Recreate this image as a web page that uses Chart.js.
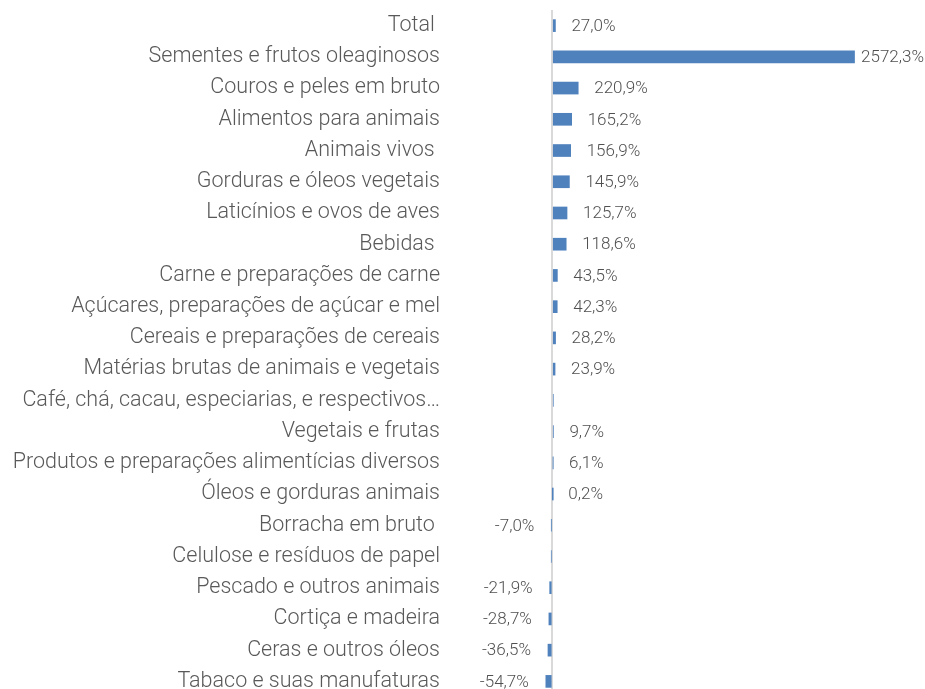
<!DOCTYPE html>
<html>
<head>
<meta charset="utf-8">
<script src="https://cdn.jsdelivr.net/npm/chart.js@4"></script>
<style>
  html, body { margin: 0; padding: 0; background: #fff; overflow: hidden; }
  #wrap { position: relative; width: 925px; height: 705px; }
</style>
</head>
<body>
<div id="wrap"><canvas id="bar"></canvas></div>
<script>
var categories = [
  "Total ",
  "Sementes e frutos oleaginosos",
  "Couros e peles em bruto",
  "Alimentos para animais",
  "Animais vivos ",
  "Gorduras e óleos vegetais",
  "Laticínios e ovos de aves",
  "Bebidas ",
  "Carne e preparações de carne",
  "Açúcares, preparações de açúcar e mel",
  "Cereais e preparações de cereais",
  "Matérias brutas de animais e vegetais",
  "Café, chá, cacau, especiarias, e respectivos…",
  "Vegetais e frutas",
  "Produtos e preparações alimentícias diversos",
  "Óleos e gorduras animais",
  "Borracha em bruto ",
  "Celulose e resíduos de papel",
  "Pescado e outros animais",
  "Cortiça e madeira",
  "Ceras e outros óleos",
  "Tabaco e suas manufaturas",
];
var values = [
  27.0, 2572.3, 220.9, 165.2, 156.9, 145.9, 125.7, 118.6, 43.5, 42.3, 28.2,
  23.9, 9.0, 9.7, 6.1, 0.2, -7.0, -8.0, -21.9, -28.7, -36.5, -54.7,
];
// rows drawn without a value label in the original
var unlabeled = [
  "Café, chá, cacau, especiarias, e respectivos…",
  "Celulose e resíduos de papel",
];

function fmt(v) {
  return v.toFixed(1).replace(".", ",") + "%";
}

var valueLabels = {
  id: "valueLabels",
  afterDatasetsDraw: function (chart) {
    var ctx = chart.ctx;
    var meta = chart.getDatasetMeta(0);
    ctx.save();
    ctx.font = "300 17px Roboto";
    ctx.fillStyle = "#505050";
    ctx.textBaseline = "middle";
    meta.data.forEach(function (bar, i) {
      if (unlabeled.indexOf(categories[i]) !== -1) return;
      var txt = fmt(values[i]);
      var w = ctx.measureText(txt).width;
      if (values[i] >= 0) {
        ctx.textAlign = "left";
        var x = Math.min(bar.x + 16, chart.width - w - 1);
        ctx.fillText(txt, x, bar.y + 1);
      } else {
        ctx.textAlign = "right";
        ctx.fillText(txt, bar.x - 17, bar.y + 1);
      }
    });
    ctx.restore();
  },
};

var isbarchart = document.getElementById("bar");
var barChart = new Chart(isbarchart, {
  type: "bar",
  data: {
    labels: categories,
    datasets: [
      {
        data: values,
        backgroundColor: "#4f81bd",
        borderWidth: 0,
        barThickness: 12,
      },
    ],
  },
  options: {
    indexAxis: "y",
    responsive: true,
    maintainAspectRatio: false,
    animation: false,
    layout: { padding: { top: 10, bottom: 8, left: 0, right: 0 } },
    plugins: { legend: { display: false }, tooltip: { enabled: false } },
    scales: {
      x: {
        min: -700,
        max: 3172,
        afterBuildTicks: function (s) {
          s.ticks = [{ value: 0 }];
        },
        ticks: { display: false },
        border: { display: false },
        grid: { color: "#d9d9d9", lineWidth: 2, drawTicks: false },
      },
      y: {
        afterFit: function (s) {
          s.width = 470;
          s.paddingTop = 0;
          s.paddingBottom = 0;
        },
        border: { display: false },
        grid: { display: false, drawTicks: false },
        ticks: {
          padding: 30,
          autoSkip: false,
          color: "#595959",
          font: { family: "Roboto", size: 21.5, weight: "300" },
        },
      },
    },
  },
  plugins: [valueLabels],
});
</script>
</body>
</html>
